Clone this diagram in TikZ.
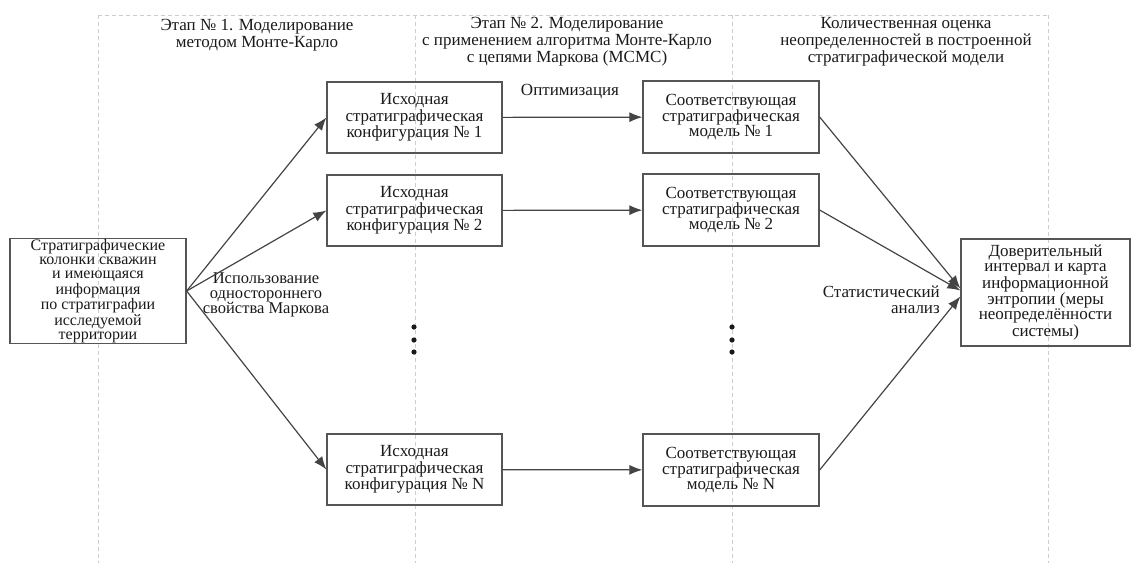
\documentclass[tikz,border=0pt]{standalone}
\usepackage{fontspec}
\setmainfont{Liberation Serif}
\usetikzlibrary{arrows.meta}
\definecolor{linegray}{HTML}{444444}
\definecolor{boxgray}{HTML}{555555}
\definecolor{textgray}{HTML}{1A1A1A}
\definecolor{guidegray}{HTML}{CCCCCC}
\tikzset{
  box/.style={draw=boxgray, line width=1.3pt, minimum width=175pt, minimum height=71pt,
    align=center, inner sep=1pt, text=textgray, font=\fontsize{17}{15}\selectfont},
  link/.style={draw=linegray, line width=1.2pt, -{Latex[length=13pt,width=10pt]}},
  guide/.style={draw=guidegray, line width=0.8pt, dash pattern=on 4pt off 3pt},
  note/.style={align=center, inner sep=0pt, text=textgray, font=\fontsize{17}{17}\selectfont},
}
\begin{document}
\begin{tikzpicture}[x=1pt,y=-1pt]
\useasboundingbox (0,0) rectangle (1131,563);
% column guides
\foreach \gx in {98,415,732,1048}
  \draw[guide] (\gx,15) -- (\gx,563);
\draw[guide] (98,15) -- (1048,15);
% stage titles
\node[note] (t1) at (257,35) {Этап № 1. Моделирование\\методом Монте-Карло};
\node[note] (t2) at (567,42) {Этап № 2. Моделирование\\с применением алгоритма Монте-Карло\\с цепями Маркова (MCMC)};
\node[note] (t3) at (906,42) {Количественная оценка\\неопределенностей в построенной\\стратиграфической модели};
% boxes
\node[box, minimum width=176pt, minimum height=98pt, font=\fontsize{16}{14}\selectfont] (src) at (98,291)
  {Стратиграфические\\колонки скважин\\и имеющаяся\\информация\\по стратиграфии\\исследуемой\\территории};
\node[box] (c1) at (414.5,117.5) {Исходная\\стратиграфическая\\конфигурация № 1};
\node[box] (c2) at (414.5,210.5) {Исходная\\стратиграфическая\\конфигурация № 2};
\node[box] (cN) at (414.5,469.5) {Исходная\\стратиграфическая\\конфигурация № N};
\node[box, minimum width=176pt, minimum height=72pt] (m1) at (731,117) {Соответствующая\\стратиграфическая\\модель № 1};
\node[box, minimum width=176pt, minimum height=72pt] (m2) at (731,210) {Соответствующая\\стратиграфическая\\модель № 2};
\node[box, minimum width=176pt, minimum height=72pt] (mN) at (731,470) {Соответствующая\\стратиграфическая\\модель № N};
\node[box, minimum width=169pt, minimum height=107pt] (res) at (1045.5,292.5)
  {Доверительный\\интервал и карта\\информационной\\энтропии (меры\\неопределённости\\системы)};
% labels
\node[note] (opt) at (570,92) {Оптимизация};
\node[note, font=\fontsize{16.5}{15}\selectfont] (mark) at (266,295) {Использование\\одностороннего\\свойства Маркова};
\node[note, align=right, anchor=east, font=\fontsize{17}{15.5}\selectfont] (stat) at (940,300) {Статистический\\анализ};
% omitted rows
\foreach \dx in {414,732}
  \foreach \dy in {327,340,352}
    \fill[textgray] (\dx,\dy) circle (2.6pt);
% connectors
\draw[link] (src.east) -- (c1.west);
\draw[link] (src.east) -- (c2.west);
\draw[link] (src.east) -- (cN.west);
\draw[link] (c1) -- (m1);
\draw[link] (c2) -- (m2);
\draw[link] (cN) -- (mN);
\draw[link] (m1.east) -- ([yshift=4pt]res.west);
\draw[link] (m2.east) -- ([yshift=2pt]res.west);
\draw[link] (mN.east) -- ([yshift=-4pt]res.west);
\end{tikzpicture}
\end{document}
